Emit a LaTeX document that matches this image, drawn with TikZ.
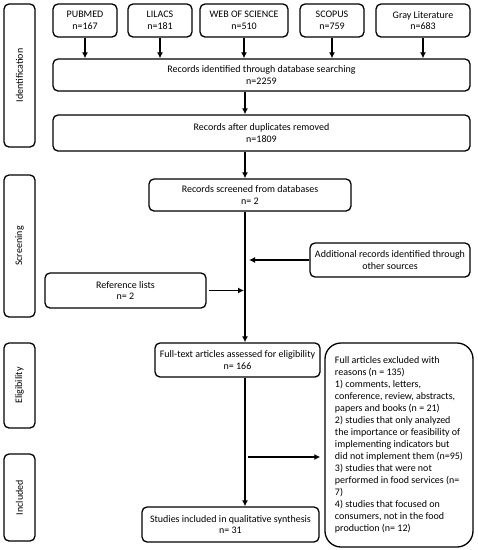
\documentclass[tikz,border=0pt]{standalone}
\usepackage{fontspec}
\setmainfont{Carlito}
\usetikzlibrary{arrows, arrows.meta, positioning}

\begin{document}
\begin{tikzpicture}[x=1pt, y=-1pt,
    box/.style={draw, line width=1.3pt, rounded corners=5pt, align=center,
      inner sep=0pt, font=\fontsize{10}{11.5}\selectfont},
    phase/.style={box, rotate=90, minimum height=31pt},
    flow/.style={-{Latex[length=6pt,width=6pt]}, line width=1.3pt}]
    \useasboundingbox (0,0) rectangle (478,550);
    \coordinate (col) at (245,0);
    \node[phase, minimum width=143pt] (identification) at (19.5,75.5) {Identification};
    \node[phase, minimum width=142pt] (screening) at (19.5,246) {Screening};
    \node[phase, minimum width=85pt] (eligibility) at (19.5,385.5) {Eligibility};
    \node[phase, minimum width=87pt] (included) at (19.5,497.5) {Included};
    \node[box, minimum width=64pt, minimum height=33pt] (pubmed) at (85,20.5) {PUBMED\\n=167};
    \node[box, minimum width=64pt, minimum height=33pt] (lilacs) at (160,20.5) {LILACS\\n=181};
    \node[box, minimum width=88pt, minimum height=33pt] (wos) at (244,20.5) {WEB OF SCIENCE\\n=510};
    \node[box, minimum width=64pt, minimum height=33pt] (scopus) at (332,20.5) {SCOPUS\\n=759};
    \node[box, minimum width=94pt, minimum height=33pt] (gray) at (423,20.5) {Gray Literature\\n=683};
    \node[box, minimum width=417pt, minimum height=32pt] (records) at (261.5,75) {Records identified through database searching\\n=2259};
    \node[box, minimum width=417pt, minimum height=36pt] (dup) at (261.5,133) {Records after duplicates removed\\n=1809};
    \node[box, minimum width=202pt, minimum height=32pt] (screened) at (250,195) {Records screened from databases\\n= 2};
    \node[box, minimum width=160pt, minimum height=34pt] (additional) at (390,260) {Additional records identified through\\other sources};
    \node[box, minimum width=161pt, minimum height=35pt] (reflists) at (125.5,290.5) {Reference lists\\n= 2};
    \node[box, minimum width=165pt, minimum height=34pt] (fulltext) at (237.5,360) {Full-text articles assessed for eligibility\\n= 166};
    \node[box, minimum width=177pt, minimum height=35pt] (studies) at (230.5,524.5) {Studies included in qualitative synthesis\\n= 31};
    \node[box, rounded corners=16pt, align=left, minimum width=148pt, minimum height=204pt,
      font=\fontsize{10}{12}\selectfont] (excluded) at (399,445) {Full articles excluded with\\
      reasons (n = 135)\\ 1) comments, letters,\\ conference, review, abstracts,\\
      papers and books (n = 21)\\ 2) studies that only analyzed\\ the importance or feasibility of\\
      implementing indicators but\\ did not implement them (n=95)\\ 3) studies that were not\\
      performed in food services (n=\\ 7)\\ 4) studies that focused on\\
      consumers, not in the food\\ production (n= 12)};
    \foreach \db in {pubmed, lilacs, wos, scopus, gray}
      \draw[flow] (\db.south) -- (\db.south |- records.north);
    \draw[flow] (records.south -| col) -- (dup.north -| col);
    \draw[flow] (dup.south -| col) -- (screened.north -| col);
    \draw[flow] (screened.south -| col) -- (fulltext.north -| col);
    \draw[flow, shorten >=4pt] (additional.west) -- (additional.west -| col);
    \draw[flow, shorten <=2pt, shorten >=1pt] (reflists.east) -- (reflists.east -| col);
    \draw[flow] (fulltext.south -| col) -- (studies.north -| col);
    \draw[flow, shorten <=3pt, shorten >=4pt] ([yshift=-12pt]excluded.west -| col) -- ([yshift=-12pt]excluded.west);
  \end{tikzpicture}
\end{document}
